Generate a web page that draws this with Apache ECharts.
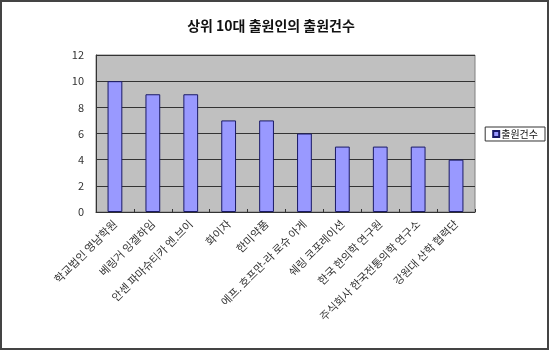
<!DOCTYPE html>
<html><head><meta charset="utf-8">
<script src="https://cdn.jsdelivr.net/npm/echarts@6/dist/echarts.min.js"></script>
<style>html,body{margin:0;padding:0;background:#fff}#c{width:550px;height:351px}</style>
</head><body><div id="c"></div>
<script>
const title = '상위 10대 출원인의 출원건수';
const seriesName = '출원건수';
const categories = ['학교법인 영남학원','베링거 잉겔하임','안센 파마슈티카 엔.브이','화이자','한미약품','에프. 호프만-라 로슈 아게','쉐링 코포레이션','한국 한의학 연구원','주식회사 한국전통의학 연구소','강원대 산학 협력단'];
const values = [10, 9, 9, 7, 7, 6, 5, 5, 5, 4];
const yTicks = {min: 0, max: 12, interval: 2};
const font = '"Noto Sans CJK KR", "Noto Sans", sans-serif';
const chart = echarts.init(document.getElementById('c'));
chart.setOption({
  animation: false,
  title: {text: title, left: 266, top: 14, textAlign: 'center',
    textStyle: {fontFamily: font, fontSize: 14, fontWeight: 'bold', color: '#111'}},
  grid: {left: 96, right: 75, top: 55, bottom: 139, show: true, backgroundColor: '#C0C0C0', borderColor: '#808080', borderWidth: 1},
  legend: {show: true, right: 5, top: 127, orient: 'vertical', data: [seriesName],
    itemWidth: 6, itemHeight: 6, itemGap: 2, padding: [2, 7, 2, 7], borderColor: '#333', borderWidth: 1,
    icon: 'rect', textStyle: {fontFamily: font, fontSize: 10, color: '#111', padding: [0, 0, 0, -3]}},
  xAxis: {type: 'category', data: categories,
    axisLine: {lineStyle: {color: '#333'}}, axisTick: {show: true, inside: true, length: 3, lineStyle: {color: '#333'}},
    axisLabel: {rotate: 45, interval: 0, fontFamily: font, fontSize: 11, color: '#333', margin: 10}},
  yAxis: {type: 'value', min: yTicks.min, max: yTicks.max, interval: yTicks.interval,
    axisLine: {show: true, lineStyle: {color: '#333'}}, axisTick: {show: false},
    splitLine: {lineStyle: {color: '#333', width: 1}},
    axisLabel: {fontFamily: font, fontSize: 11, color: '#333', margin: 12}},
  series: [{name: seriesName, type: 'bar', data: values, barWidth: '39%',
    itemStyle: {color: '#9999FF', borderColor: '#1a1a66', borderWidth: 1}}],
  graphic: [{type: 'rect', shape: {x: 1, y: 1, width: 547, height: 348}, style: {fill: 'none', stroke: '#444', lineWidth: 2}, silent: true}]
});
</script></body></html>
